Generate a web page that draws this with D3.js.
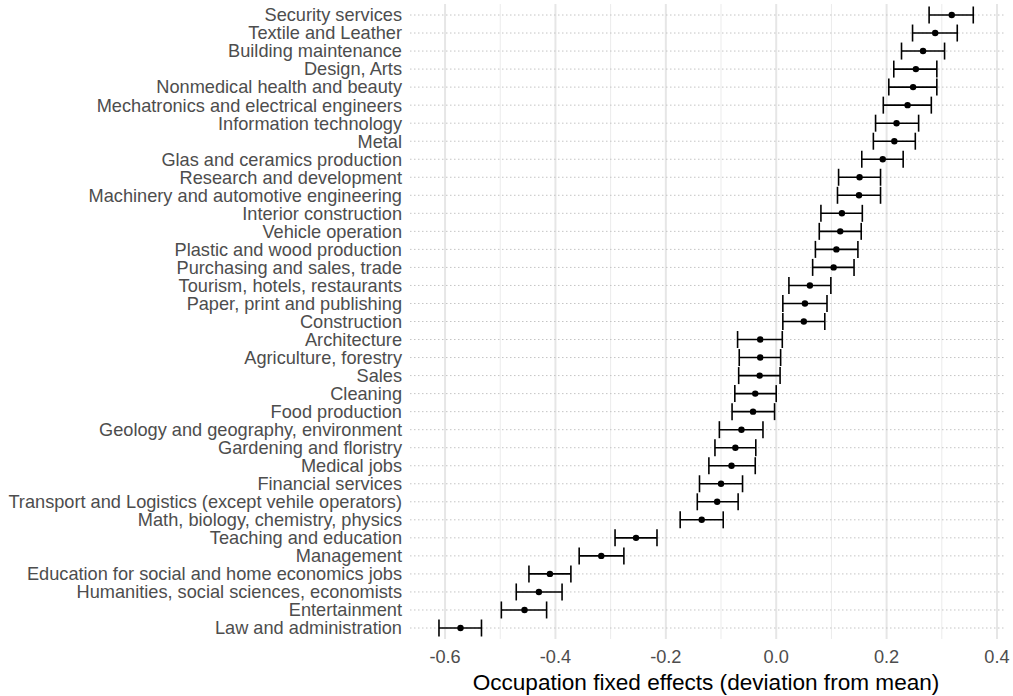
<!DOCTYPE html>
<html>
<head>
<meta charset="utf-8">
<script src="https://cdn.jsdelivr.net/npm/d3@7"></script>
<style>
  body { margin: 0; background: #fff; }
  text { font-family: "Liberation Sans", Arial, sans-serif; }
</style>
</head>
<body>
<svg id="chart" width="1013" height="696"></svg>
<script>
var occupations = [
  'Security services', 'Textile and Leather', 'Building maintenance', 'Design, Arts',
  'Nonmedical health and beauty', 'Mechatronics and electrical engineers',
  'Information technology', 'Metal', 'Glas and ceramics production',
  'Research and development', 'Machinery and automotive engineering',
  'Interior construction', 'Vehicle operation', 'Plastic and wood production',
  'Purchasing and sales, trade', 'Tourism, hotels, restaurants',
  'Paper, print and publishing', 'Construction', 'Architecture',
  'Agriculture, forestry', 'Sales', 'Cleaning', 'Food production',
  'Geology and geography, environment', 'Gardening and floristry', 'Medical jobs',
  'Financial services', 'Transport and Logistics (except vehile operators)',
  'Math, biology, chemistry, physics', 'Teaching and education', 'Management',
  'Education for social and home economics jobs',
  'Humanities, social sciences, economists', 'Entertainment', 'Law and administration'
];
var estimate = [0.318, 0.288, 0.266, 0.253, 0.248, 0.238, 0.218, 0.214, 0.193,
  0.151, 0.150, 0.119, 0.116, 0.109, 0.104, 0.061, 0.052, 0.050, -0.029,
  -0.029, -0.030, -0.038, -0.042, -0.063, -0.074, -0.081, -0.100, -0.107,
  -0.135, -0.254, -0.317, -0.410, -0.430, -0.456, -0.572];
var lower = [0.277, 0.247, 0.227, 0.213, 0.204, 0.194, 0.180, 0.176, 0.155,
  0.113, 0.111, 0.081, 0.078, 0.071, 0.066, 0.023, 0.012, 0.012, -0.070,
  -0.067, -0.068, -0.075, -0.080, -0.103, -0.111, -0.122, -0.139, -0.143,
  -0.174, -0.292, -0.357, -0.448, -0.471, -0.498, -0.611];
var upper = [0.357, 0.328, 0.305, 0.291, 0.291, 0.281, 0.258, 0.252, 0.230,
  0.189, 0.189, 0.156, 0.154, 0.148, 0.141, 0.099, 0.092, 0.088, 0.011,
  0.008, 0.007, 0.000, -0.003, -0.024, -0.037, -0.038, -0.061, -0.069,
  -0.096, -0.216, -0.276, -0.372, -0.388, -0.416, -0.534];
var majorTicks = [-0.6, -0.4, -0.2, 0.0, 0.2, 0.4];
var minorTicks = [-0.5, -0.3, -0.1, 0.1, 0.3];

var rows = occupations.map(function(d, i) {
  return {name: d, est: estimate[i], lo: lower[i], hi: upper[i]};
});

var svg = d3.select('#chart');
var x = d3.scaleLinear().domain([-0.6635, 0.4145]).range([410, 1005]);
var y = d3.scalePoint().domain(occupations).range([15, 628]);
var panelTop = 4, panelBottom = 639;

// vertical grid
svg.append('g').selectAll('line.minor')
  .data(minorTicks).enter().append('line')
  .attr('x1', function(d) { return x(d); }).attr('x2', function(d) { return x(d); })
  .attr('y1', panelTop).attr('y2', panelBottom)
  .attr('stroke', '#ebebeb').attr('stroke-width', 1);
svg.append('g').selectAll('line.major')
  .data(majorTicks).enter().append('line')
  .attr('x1', function(d) { return x(d); }).attr('x2', function(d) { return x(d); })
  .attr('y1', panelTop).attr('y2', panelBottom)
  .attr('stroke', '#e6e6e6').attr('stroke-width', 2);

// dotted horizontal lines
svg.append('g').selectAll('line')
  .data(occupations).enter().append('line')
  .attr('x1', 410).attr('x2', 1005)
  .attr('y1', function(d) { return y(d); }).attr('y2', function(d) { return y(d); })
  .attr('stroke', '#c4c4c4').attr('stroke-width', 1)
  .attr('stroke-dasharray', '1.5,2.5');

// error bars
var eb = svg.append('g').selectAll('g')
  .data(rows).enter().append('g');
eb.append('line')
  .attr('x1', function(d) { return x(d.lo); }).attr('x2', function(d) { return x(d.hi); })
  .attr('y1', function(d) { return y(d.name); }).attr('y2', function(d) { return y(d.name); })
  .attr('stroke', '#000').attr('stroke-width', 1.6);
eb.append('line')
  .attr('x1', function(d) { return x(d.lo); }).attr('x2', function(d) { return x(d.lo); })
  .attr('y1', function(d) { return y(d.name) - 8.5; }).attr('y2', function(d) { return y(d.name) + 8.5; })
  .attr('stroke', '#000').attr('stroke-width', 1.6);
eb.append('line')
  .attr('x1', function(d) { return x(d.hi); }).attr('x2', function(d) { return x(d.hi); })
  .attr('y1', function(d) { return y(d.name) - 8.5; }).attr('y2', function(d) { return y(d.name) + 8.5; })
  .attr('stroke', '#000').attr('stroke-width', 1.6);
eb.append('circle')
  .attr('cx', function(d) { return x(d.est); })
  .attr('cy', function(d) { return y(d.name); })
  .attr('r', 3.2).attr('fill', '#000');

// y labels
svg.append('g').selectAll('text')
  .data(occupations).enter().append('text')
  .attr('x', 402).attr('y', function(d) { return y(d); })
  .attr('dy', '0.35em').attr('text-anchor', 'end')
  .attr('font-size', 18.2).attr('fill', '#4d4d4d')
  .text(function(d) { return d; });

// x axis labels
svg.append('g').selectAll('text')
  .data(majorTicks).enter().append('text')
  .attr('x', function(d) { return x(d); }).attr('y', 657)
  .attr('dy', '0.35em').attr('text-anchor', 'middle')
  .attr('font-size', 18.2).attr('fill', '#4d4d4d')
  .text(function(d) { return d3.format('.1f')(d).replace('−', '-'); });

svg.append('text')
  .attr('x', 706).attr('y', 682).attr('dy', '0.35em')
  .attr('text-anchor', 'middle').attr('font-size', 22.6).attr('fill', '#000')
  .text('Occupation fixed effects (deviation from mean)');
</script>
</body>
</html>
